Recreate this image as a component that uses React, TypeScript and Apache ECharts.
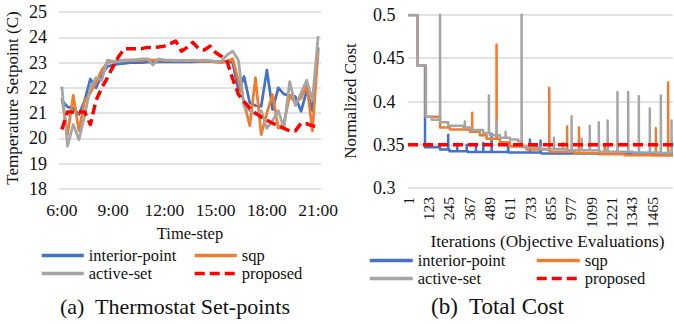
import React, { useEffect, useRef } from "react";
import * as echarts from "echarts";

// ---------- Chart (a): thermostat set-points ----------
const times = [
  "6:00", "6:20", "6:40", "7:00", "7:20", "7:40", "8:00", "8:20", "8:40",
  "9:00", "9:20", "9:40", "10:00", "10:20", "10:40", "11:00", "11:20", "11:40",
  "12:00", "12:20", "12:40", "13:00", "13:20", "13:40", "14:00", "14:20", "14:40",
  "15:00", "15:20", "15:40", "16:00", "16:20", "16:40", "17:00", "17:20", "17:40",
  "18:00", "18:20", "18:40", "19:00", "19:20", "19:40", "20:00", "20:20", "20:40",
  "21:00",
];

const interiorPoint = [
  21.5, 21.25, 21.2, 20.95, 21.5, 22.35, 22.0, 22.5, 22.85, 22.9,
  22.95, 22.97, 23.0, 23.0, 23.0, 23.02, 23.02, 23.03, 23.03, 23.03,
  23.03, 23.03, 23.03, 23.03, 23.04, 23.04, 23.04, 23.04, 23.04, 23.05,
  23.0, 21.9, 22.45, 21.4, 21.3, 21.27, 22.7, 21.14, 22.0, 21.75,
  21.7, 21.65, 21.07, 21.9, 21.1, 23.6,
];

const sqp = [
  21.6, 20.15, 21.7, 20.3, 21.5, 21.8, 22.2, 22.7, 23.0, 23.05,
  23.07, 23.1, 23.1, 23.1, 23.1, 23.12, 23.1, 23.1, 23.1, 23.08,
  23.08, 23.08, 23.07, 23.07, 23.06, 23.05, 23.05, 23.02, 23.0, 23.05,
  23.15, 22.3, 21.4, 20.5, 22.4, 20.15, 21.0, 21.73, 20.4, 20.6,
  21.7, 21.4, 21.6, 22.13, 20.3, 23.5,
];

const activeSet = [
  22.05, 19.7, 20.55, 19.95, 20.9, 22.0, 22.4, 22.3, 23.1, 23.05,
  23.05, 23.1, 23.1, 23.12, 23.15, 23.15, 22.9, 23.15, 23.1, 23.1,
  23.08, 23.1, 23.08, 23.1, 23.08, 23.1, 23.08, 23.05, 23.05, 23.3,
  23.45, 23.1, 21.25, 21.1, 20.95, 21.1, 20.4, 20.7, 21.1, 20.4,
  22.25, 21.3, 21.8, 22.3, 21.5, 24.05,
];

const proposed = [
  20.35, 21.05, 21.05, 21.05, 21.05, 20.55, 21.5, 22.0, 22.4, 22.85,
  23.25, 23.55, 23.55, 23.55, 23.55, 23.6, 23.6, 23.62, 23.65, 23.75,
  23.85, 23.45, 23.6, 23.8, 23.55, 23.5, 23.65, 23.4, 23.25, 23.05,
  22.35, 21.75, 21.45, 21.2, 21.0, 20.85, 20.72, 20.6, 20.5, 20.4,
  20.3, 20.3, 20.6, 20.58, 20.5, 20.45,
];

// ---------- Chart (b): total cost ----------
const iterationTicks = [1, 123, 245, 367, 489, 611, 733, 855, 977, 1099, 1221, 1343, 1465];
const lastIteration = 1590;

// [iteration, new level]
const interiorSteps = [
  [1, 0.5], [57, 0.442], [103, 0.347], [193, 0.3445], [250, 0.3425], [360, 0.3415],
  [600, 0.341], [800, 0.34], [1100, 0.3395], [1400, 0.339],
];
// [iteration, spike peak]
const interiorSpikes = [
  [242, 0.3616], [296, 0.35], [353, 0.35], [408, 0.351], [452, 0.352], [502, 0.3627],
  [602, 0.352], [732, 0.356], [796, 0.355],
];

const sqpSteps = [
  [1, 0.5], [57, 0.442], [108, 0.3825], [193, 0.37], [252, 0.3675], [372, 0.365],
  [432, 0.361], [472, 0.357], [552, 0.353], [612, 0.348], [712, 0.3445], [850, 0.342],
  [1000, 0.3405], [1150, 0.339], [1300, 0.338], [1450, 0.3375],
];
const sqpSpikes = [
  [386, 0.387], [532, 0.466], [848, 0.416], [955, 0.371], [1026, 0.37], [1181, 0.35],
  [1487, 0.369], [1561, 0.422],
];

const activeSteps = [
  [1, 0.5], [57, 0.442], [108, 0.3825], [143, 0.379], [193, 0.376], [242, 0.372],
  [332, 0.37], [382, 0.367], [452, 0.3635], [492, 0.361], [552, 0.358], [612, 0.356],
  [662, 0.354], [682, 0.347], [800, 0.345], [950, 0.3435], [1150, 0.342], [1350, 0.341],
  [1500, 0.3405],
];
const activeSpikes = [
  [193, 0.52], [342, 0.377], [486, 0.407], [532, 0.377], [586, 0.365], [682, 0.52],
  [876, 0.358], [930, 0.352], [982, 0.383], [1042, 0.357], [1091, 0.372], [1145, 0.376],
  [1198, 0.378], [1257, 0.411], [1321, 0.411], [1385, 0.406], [1451, 0.392], [1517, 0.407],
  [1581, 0.378],
];

const proposedCost = [[1, 0.35], [lastIteration, 0.35]];

const COLORS = {
  interior: "#4472C4",
  sqp: "#ED7D31",
  active: "#A5A5A5",
  proposed: "#FF0000",
};
const FONT = "Liberation Serif";
const TEXT = "#111111";

function buildStepSeries(steps: number[][], spikes: number[][], end: number) {
  const spikeMap = new Map<number, number>(spikes.map((s) => [s[0], s[1]] as [number, number]));
  const baseAt = (x: number) => {
    let v = steps[0][1];
    for (const [t, y] of steps) if (t <= x) v = y;
    return v;
  };
  const its = Array.from(new Set([...steps.map((s) => s[0]), ...spikes.map((s) => s[0])])).sort(
    (a, b) => a - b
  );
  const pts: number[][] = [];
  for (const x of its) {
    if (spikeMap.has(x)) {
      pts.push([x, spikeMap.get(x) as number]);
      pts.push([x + 1, baseAt(x)]);
    } else {
      pts.push([x, baseAt(x)]);
    }
  }
  pts.push([end, baseAt(end)]);
  return pts;
}

export default function App() {
  const ref = useRef<HTMLDivElement>(null);

  useEffect(() => {
    if (!ref.current) return;
    const chart = echarts.init(ref.current, undefined, { renderer: "svg" });

    const lineBase = (name: string, color: string, width: number, dashed = false) => ({
      name,
      type: "line",
      showSymbol: false,
      symbol: "none",
      silent: true,
      color,
      lineStyle: {
        color,
        width,
        type: dashed ? [10, 5] : "solid",
        join: "round",
        cap: "butt",
      },
      emphasis: { disabled: true },
    });

    const legendText = { fontFamily: FONT, fontSize: 16.5, color: TEXT };
    const mkLegend = (name: string, left: number, top: number, w: number) => ({
      data: [name],
      left,
      top,
      itemWidth: w,
      itemHeight: 14,
      itemGap: 0,
      selectedMode: false,
      textStyle: legendText,
      itemStyle: { color: "rgba(0,0,0,0)", borderWidth: 0, opacity: 0 },
      lineStyle: { width: 3.5 },
      padding: 0,
    });

    const txt = (
      text: string,
      x: number,
      y: number,
      size: number,
      align = "center",
      rotation = 0
    ) => ({
      type: "text",
      x,
      y,
      rotation,
      silent: true,
      style: {
        text,
        fontFamily: FONT,
        fontSize: size,
        fill: TEXT,
        align,
        verticalAlign: "middle",
        textAlign: align,
        textVerticalAlign: "middle",
      },
    });

    const labelStyle = (size: number) => ({ fontFamily: FONT, fontSize: size, color: TEXT });

    const option: any = {
      animation: false,
      backgroundColor: "#ffffff",
      textStyle: { fontFamily: FONT, color: TEXT },
      grid: [
        { left: 59, top: 12, width: 262, height: 177, containLabel: false },
        { left: 408, top: 15, width: 265, height: 173, containLabel: false },
      ],
      xAxis: [
        {
          gridIndex: 0,
          type: "category",
          data: times,
          boundaryGap: true,
          axisLine: { show: false },
          axisTick: { show: false },
          splitLine: { show: false },
          axisLabel: { ...labelStyle(17.5), interval: 8, margin: 12 },
        },
        {
          gridIndex: 1,
          type: "value",
          min: 1,
          max: lastIteration,
          axisLine: { show: false },
          axisTick: { show: false },
          splitLine: { show: false },
          axisLabel: {
            ...labelStyle(15.5),
            customValues: iterationTicks,
            rotate: 90,
            margin: 9,
            formatter: (v: number) => String(v),
          },
        },
      ],
      yAxis: [
        {
          gridIndex: 0,
          type: "value",
          min: 18,
          max: 25,
          interval: 1,
          axisLine: { show: false },
          axisTick: { show: false },
          splitLine: { lineStyle: { color: "#d9d9d9", width: 1.5 } },
          axisLabel: { ...labelStyle(18), margin: 12 },
        },
        {
          gridIndex: 1,
          type: "value",
          min: 0.3,
          max: 0.5,
          interval: 0.05,
          axisLine: { show: false },
          axisTick: { show: false },
          splitLine: { lineStyle: { color: "#d9d9d9", width: 1.5 } },
          axisLabel: {
            ...labelStyle(18),
            margin: 35,
            align: "left",
            formatter: (v: number) => String(+Number(v).toFixed(2)),
          },
        },
      ],
      legend: [
        mkLegend("interior-point", 40, 247, 42),
        mkLegend("sqp", 193, 247, 42),
        mkLegend("active-set", 40, 265, 42),
        mkLegend("proposed", 193, 265, 42),
        mkLegend("interior-point", 368, 252, 43),
        mkLegend("sqp", 535, 252, 43),
        mkLegend("active-set", 368, 270, 43),
        mkLegend("proposed", 535, 270, 43),
      ],
      graphic: [
        txt("Temperature Setpoint (C)", 12.5, 98, 17, "center", Math.PI / 2),
        txt("Time-step", 190, 233, 16.5),
        txt("Normalized Cost", 350, 101, 17, "center", Math.PI / 2),
        txt("Iterations (Objective Evaluations)", 547.5, 241, 17.3),
        txt("(a)  Thermostat Set-points", 175, 306, 22),
        txt("(b)  Total Cost", 497.5, 306, 23),
      ],
      series: [
        { ...lineBase("interior-point", COLORS.interior, 2.75), xAxisIndex: 0, yAxisIndex: 0, data: interiorPoint },
        { ...lineBase("sqp", COLORS.sqp, 2.75), xAxisIndex: 0, yAxisIndex: 0, data: sqp },
        { ...lineBase("active-set", COLORS.active, 2.75), xAxisIndex: 0, yAxisIndex: 0, data: activeSet },
        { ...lineBase("proposed", COLORS.proposed, 3.5, true), xAxisIndex: 0, yAxisIndex: 0, data: proposed },
        {
          ...lineBase("interior-point", COLORS.interior, 2.5),
          xAxisIndex: 1,
          yAxisIndex: 1,
          step: "end",
          data: buildStepSeries(interiorSteps, interiorSpikes, lastIteration),
        },
        {
          ...lineBase("sqp", COLORS.sqp, 2.5),
          xAxisIndex: 1,
          yAxisIndex: 1,
          step: "end",
          data: buildStepSeries(sqpSteps, sqpSpikes, lastIteration),
        },
        {
          ...lineBase("active-set", COLORS.active, 2.5),
          xAxisIndex: 1,
          yAxisIndex: 1,
          step: "end",
          data: buildStepSeries(activeSteps, activeSpikes, lastIteration),
        },
        {
          ...lineBase("proposed", COLORS.proposed, 3.5, true),
          xAxisIndex: 1,
          yAxisIndex: 1,
          data: proposedCost,
        },
      ],
    };

    chart.setOption(option);
    return () => chart.dispose();
  }, []);

  return (
    <div
      ref={ref}
      style={{ position: "fixed", left: 0, top: 0, width: 674, height: 324, background: "#fff" }}
    />
  );
}
